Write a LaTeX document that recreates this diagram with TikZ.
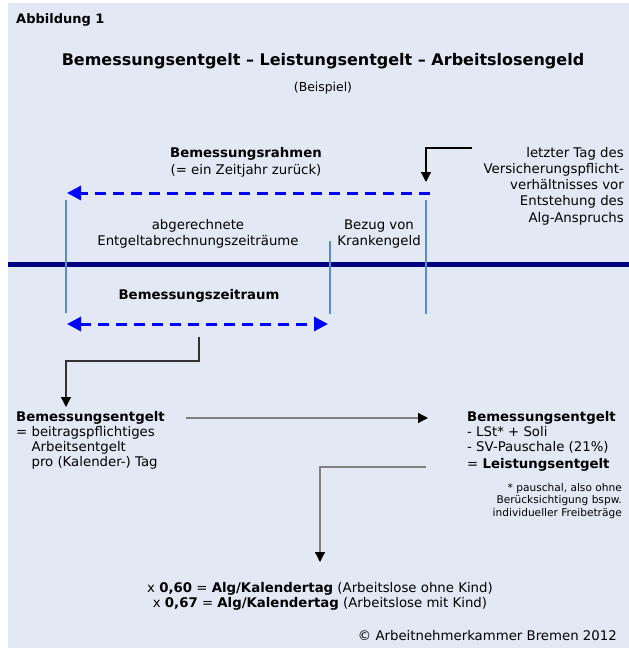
\documentclass[tikz,border=0pt]{standalone}
\usepackage{fontspec}
\setmainfont{DejaVu Sans}
\usetikzlibrary{arrows.meta}
\definecolor{panelbg}{HTML}{E2E9F5}
\definecolor{timeline}{HTML}{000080}
\definecolor{tickblue}{HTML}{5B8BC8}
\definecolor{dashblue}{HTML}{0000FF}
\tikzset{
  txt/.style={inner sep=0pt, font=\fontsize{13.3}{15.2}\selectfont},
  small/.style={inner sep=0pt, font=\fontsize{10.6}{12.6}\selectfont},
  tickline/.style={line width=2pt, color=tickblue},
  bluedash/.style={line width=3pt, color=dashblue, dash pattern=on 11pt off 7pt},
  bluetip/.tip={Triangle[length=14pt, width=14pt]},
  blacktip/.tip={Triangle[length=10pt, width=10pt, color=black]},
  elbow/.style={line width=1.3pt, -blacktip}
}
\begin{document}
\begin{tikzpicture}[x=1pt, y=-1pt]
  %%%%% PANEL %%%%%
  \useasboundingbox (0,0) rectangle (629,648);
  \fill[panelbg] (8,3) rectangle (629,648);

  %%%%% HEADINGS %%%%%
  \node[txt, anchor=west, font=\fontsize{13}{15}\bfseries] (abb) at (16,20) {Abbildung 1};
  \node[txt, font=\fontsize{16}{18}\bfseries] (title) at (323,61)
    {Bemessungsentgelt -- Leistungsentgelt -- Arbeitslosengeld};
  \node[txt, font=\fontsize{12.4}{14}\selectfont] (beispiel) at (323,88) {(Beispiel)};

  %%%%% TIMELINE %%%%%
  \draw[line width=5pt, color=timeline] (8,264.5) -- (629,264.5);
  \draw[tickline] (66,200) -- (66,313);
  \draw[tickline] (330,241) -- (330,314);
  \draw[tickline] (426,200) -- (426,314);

  \node[txt, align=center, font=\fontsize{13.3}{17}\selectfont] (rahmen) at (246,162)
    {\textbf{Bemessungsrahmen}\\(= ein Zeitjahr zurück)};
  \coordinate (rahmenA) at (430,193);
  \coordinate (rahmenB) at (67,193);
  \draw[bluedash, -bluetip] (rahmenA) -- (rahmenB);

  \node[txt, align=center, font=\fontsize{13.3}{16}\selectfont] (abger) at (198,234)
    {abgerechnete\\Entgeltabrechnungszeiträume};
  \node[txt, align=center, font=\fontsize{13.3}{16}\selectfont] (bezug) at (379,234)
    {Bezug von\\Krankengeld};
  \node[txt, anchor=east, align=right, font=\fontsize{13.3}{16.2}\selectfont] (letzter) at (624,186)
    {letzter Tag des\\Versicherungspflicht-\\verhältnisses vor\\Entstehung des\\Alg-Anspruchs};
  \coordinate (letzterA) at (472,148);
  \coordinate (letzterB) at (426,182);
  \draw[elbow] (letzterA) -| (letzterB);

  \node[txt, font=\fontsize{13.3}{15}\bfseries] (zeitraum) at (199,296) {Bemessungszeitraum};
  \coordinate (zeitraumA) at (67,324);
  \coordinate (zeitraumB) at (328,324);
  \draw[bluedash, bluetip-bluetip] (zeitraumA) -- (zeitraumB);

  %%%%% CALCULATION %%%%%
  \coordinate (zeitraumC) at (199,337);
  \coordinate (zeitraumD) at (199,361);
  \coordinate (bemLtop) at (66,407);
  \draw[elbow, color=black!80] (zeitraumC) -- (zeitraumD) -| (bemLtop);

  \node[txt, anchor=north west, align=left] (bemL) at (16,411)
    {\textbf{Bemessungsentgelt}\\= beitragspflichtiges\\\phantom{= }Arbeitsentgelt\\\phantom{= }pro (Kalender-) Tag};
  \node[txt, anchor=north west, align=left] (bemR) at (467,411)
    {\textbf{Bemessungsentgelt}\\- LSt* + Soli\\- SV-Pauschale (21\%)\\[1.5pt]= \textbf{Leistungsentgelt}};
  \coordinate (bemLright) at (186,418);
  \coordinate (bemRleft) at (428,418);
  \draw[elbow, color=black!50] (bemLright) -- (bemRleft);

  \node[small, anchor=north east, align=right] (fussnote) at (622,483)
    {* pauschal, also ohne\\Berücksichtigung bspw.\\individueller Freibeträge};

  \coordinate (leistungA) at (426,467);
  \coordinate (leistungB) at (320,562);
  \draw[elbow, color=black!50] (leistungA) -| (leistungB);

  \node[txt, align=center] (ergebnis) at (320,596)
    {x \textbf{0,60} = \textbf{Alg/Kalendertag} (Arbeitslose ohne Kind)\\
     x \textbf{0,67} = \textbf{Alg/Kalendertag} (Arbeitslose mit Kind)};

  \node[txt, anchor=east] (copy) at (617,636) {© Arbeitnehmerkammer Bremen 2012};
\end{tikzpicture}
\end{document}
